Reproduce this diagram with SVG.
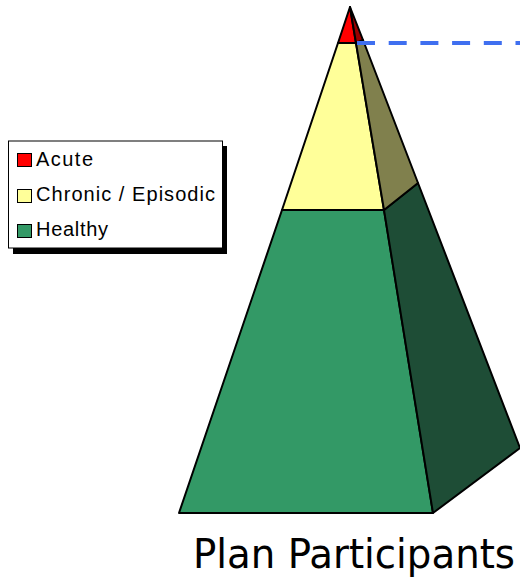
<svg xmlns="http://www.w3.org/2000/svg" width="520" height="579" viewBox="0 0 520 579">
<style>
.f{stroke:#000;stroke-width:2;stroke-linejoin:round}
.lt{font-family:"Liberation Sans",Arial,sans-serif;font-size:20px;fill:#000}
.sw{stroke:#000;stroke-width:1}
</style>
<rect width="520" height="579" fill="#fff"/>
<g id="pyramid">
  <g id="healthy">
    <polygon class="f" points="282,210 384,210 433,513 179,513" fill="#339966"/>
    <polygon class="f" points="384,210 418,183 520,448 433,513" fill="#1e4d36"/>
  </g>
  <g id="chronic">
    <polygon class="f" points="338,43 356,43 384,210 282,210" fill="#ffff99"/>
    <polygon class="f" points="356,43 363,40 418,183 384,210" fill="#80804d"/>
  </g>
  <g id="acute">
    <polygon class="f" points="350,7 356,43 338,43" fill="#ff0000"/>
    <polygon class="f" points="350,7 363,40 356,43" fill="#990000"/>
  </g>
</g>
<g id="connectors">
  <line x1="357" y1="43" x2="520" y2="43" stroke="#3f6ff0" stroke-width="4" stroke-dasharray="18 13.7"/>
</g>
<g id="legend">
  <rect x="13" y="146" width="214" height="108" fill="#000"/>
  <rect x="8.5" y="141" width="214" height="107" fill="#fff" stroke="#000" stroke-width="1"/>
  <rect class="sw" x="17.5" y="153.5" width="14" height="13" fill="#ff0000"/>
  <text class="lt" x="36" y="166" textLength="57" lengthAdjust="spacing">Acute</text>
  <rect class="sw" x="17.5" y="189.5" width="14" height="13" fill="#ffff99"/>
  <text class="lt" x="36" y="201" textLength="179" lengthAdjust="spacing">Chronic / Episodic</text>
  <rect class="sw" x="17.5" y="224.5" width="14" height="13" fill="#339966"/>
  <text class="lt" x="36" y="236" textLength="72" lengthAdjust="spacing">Healthy</text>
</g>
<g id="title">
  <text x="193" y="568" font-family="'DejaVu Sans',Verdana,sans-serif" font-size="41" textLength="322" lengthAdjust="spacingAndGlyphs" fill="#000">Plan Participants</text>
</g>
</svg>
